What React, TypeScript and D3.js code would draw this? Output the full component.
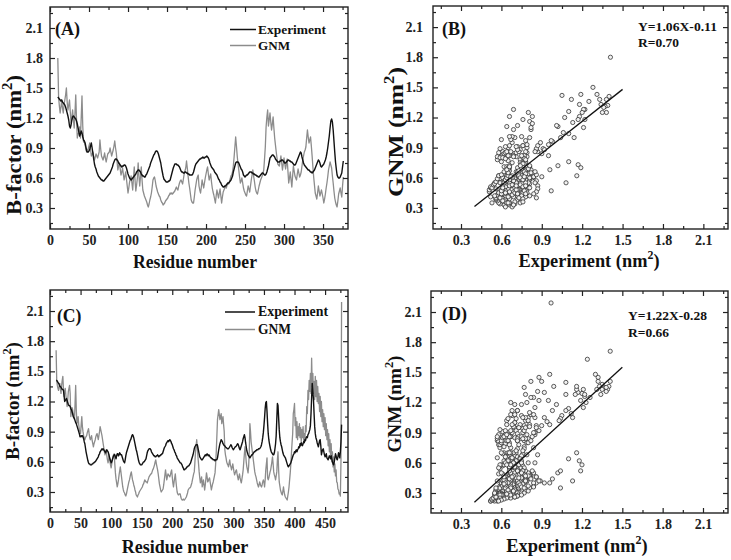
import React, { useEffect, useRef } from "react";
import { select, scaleLinear, line, range, axisBottom, axisTop, axisLeft, axisRight } from "d3";

const FONT = "'Liberation Serif', 'Times New Roman', serif";

// B-factor profiles in nm^2 x 100, one value per residue starting at residue 10
const firstResidue = 10;

const expA = [
  141, 140, 139, 138, 137, 138, 136, 135, 134, 133,
  131, 128, 125, 122, 118, 112, 110, 113, 118, 121,
  122, 121, 120, 119, 117, 114, 110, 106, 102, 104,
  107, 105, 101, 98, 97, 95, 91, 87, 86, 86,
  87, 89, 92, 95, 90, 85, 79, 74, 71, 69,
  66, 64, 62, 61, 60, 59, 58, 58, 57, 57,
  58, 59, 60, 61, 62, 63, 64, 65, 67, 69,
  71, 74, 76, 78, 79, 79, 78, 77, 75, 74,
  73, 72, 71, 72, 72, 73, 73, 72, 70, 67,
  64, 62, 60, 59, 58, 59, 60, 61, 62, 63,
  64, 66, 67, 68, 68, 67, 66, 64, 63, 62,
  62, 61, 61, 63, 64, 66, 68, 70, 72, 75,
  77, 79, 81, 83, 84, 86, 87, 87, 86, 84,
  81, 78, 75, 70, 66, 62, 59, 58, 57, 56,
  56, 56, 57, 57, 58, 61, 64, 67, 70, 72,
  74, 74, 74, 73, 73, 72, 71, 69, 67, 66,
  66, 65, 65, 66, 66, 65, 65, 64, 64, 63,
  63, 63, 63, 64, 66, 69, 72, 74, 75, 76,
  77, 78, 79, 79, 80, 80, 81, 80, 80, 81,
  81, 82, 81, 80, 78, 75, 73, 71, 70, 69,
  68, 66, 65, 64, 63, 61, 59, 58, 56, 55,
  53, 52, 51, 51, 52, 52, 53, 54, 55, 55,
  56, 57, 58, 60, 62, 66, 69, 72, 75, 76,
  76, 76, 75, 73, 71, 69, 68, 66, 63, 62,
  61, 62, 63, 63, 64, 65, 66, 66, 66, 65,
  65, 64, 64, 63, 63, 62, 62, 61, 61, 62,
  63, 64, 65, 65, 64, 63, 63, 64, 66, 69,
  72, 76, 80, 81, 82, 83, 83, 82, 81, 79,
  78, 77, 76, 76, 76, 77, 77, 78, 78, 77,
  76, 75, 75, 76, 77, 78, 78, 77, 77, 76,
  76, 75, 74, 73, 73, 74, 76, 78, 80, 82,
  84, 86, 85, 81, 78, 75, 73, 72, 71, 70,
  69, 68, 68, 67, 66, 66, 65, 66, 67, 68,
  70, 72, 74, 76, 78, 77, 75, 72, 71, 72,
  73, 74, 76, 78, 81, 85, 90, 96, 102, 110,
  117, 119, 116, 108, 97, 86, 76, 69, 63, 61,
  60, 60, 61, 63, 65, 71, 77,
];

const gnmA = [
  180, 141, 132, 125, 131, 138, 130, 125, 133, 138,
  143, 150, 136, 128, 133, 138, 126, 115, 121, 128,
  118, 110, 125, 143, 118, 100, 104, 105, 111, 100,
  120, 142, 112, 96, 97, 93, 89, 86, 88, 89,
  92, 95, 88, 82, 84, 86, 81, 78, 81, 84,
  82, 80, 83, 86, 98, 89, 82, 80, 78, 81,
  85, 80, 76, 80, 84, 85, 86, 90, 86, 82,
  85, 88, 92, 97, 90, 85, 76, 68, 72, 75,
  69, 63, 66, 70, 64, 58, 62, 66, 59, 52,
  45, 50, 56, 59, 62, 55, 48, 60, 71, 58,
  47, 53, 60, 75, 62, 52, 61, 71, 58, 48,
  45, 42, 40, 38, 36, 33, 31, 34, 38, 41,
  45, 51, 58, 60, 61, 57, 52, 49, 46, 44,
  42, 41, 38, 36, 35, 33, 34, 35, 37, 38,
  39, 40, 42, 43, 45, 44, 45, 44, 45, 46,
  47, 49, 51, 49, 48, 52, 55, 57, 58, 56,
  54, 59, 64, 67, 70, 77, 70, 62, 55, 50,
  44, 38, 36, 35, 35, 41, 48, 53, 58, 61,
  63, 52, 48, 45, 51, 58, 54, 50, 55, 60,
  64, 68, 71, 64, 58, 61, 64, 56, 50, 46,
  43, 39, 35, 42, 48, 44, 40, 45, 49, 42,
  35, 41, 46, 48, 50, 51, 50, 53, 55, 54,
  56, 59, 62, 63, 66, 72, 81, 91, 101, 92,
  82, 74, 68, 61, 55, 57, 60, 55, 50, 47,
  45, 43, 42, 47, 52, 49, 46, 52, 58, 63,
  68, 62, 57, 51, 47, 45, 44, 48, 52, 55,
  58, 60, 62, 65, 68, 79, 91, 111, 121, 128,
  112, 118, 125, 116, 108, 114, 121, 110, 100, 93,
  86, 80, 74, 73, 72, 77, 82, 75, 68, 74,
  80, 74, 69, 74, 79, 67, 55, 60, 66, 58,
  51, 62, 72, 67, 62, 60, 58, 64, 69, 65,
  61, 63, 66, 72, 78, 82, 86, 88, 91, 100,
  108, 101, 95, 98, 101, 92, 82, 71, 61, 53,
  45, 42, 39, 45, 52, 47, 42, 45, 48, 44,
  40, 35, 39, 44, 50, 55, 61, 68, 72, 76,
  73, 70, 62, 55, 47, 40, 36, 33, 31, 37,
  44, 47, 50, 45, 41, 52, 61,
];

const expC = [
  141, 141, 140, 139, 138, 137, 135, 135, 134, 133,
  132, 132, 131, 126, 120, 121, 122, 123, 121, 119,
  117, 116, 116, 115, 113, 112, 110, 108, 105, 104,
  103, 101, 99, 98, 96, 94, 92, 90, 88, 85,
  85, 86, 85, 86, 85, 83, 80, 78, 74, 70,
  67, 64, 61, 59, 58, 58, 57, 57, 57, 58,
  58, 59, 59, 60, 60, 61, 62, 63, 64, 65,
  67, 68, 70, 71, 72, 73, 72, 73, 72, 71,
  70, 69, 71, 72, 71, 70, 68, 65, 63, 61,
  59, 60, 62, 64, 66, 67, 67, 65, 63, 66,
  68, 68, 66, 67, 69, 68, 67, 67, 65, 63,
  61, 60, 59, 62, 66, 69, 71, 73, 75, 77,
  79, 81, 82, 84, 86, 87, 86, 84, 81, 78,
  75, 72, 70, 67, 64, 61, 59, 58, 57, 57,
  57, 58, 59, 60, 60, 61, 62, 63, 66, 69,
  71, 72, 73, 73, 73, 72, 70, 69, 68, 67,
  66, 66, 65, 65, 66, 66, 67, 66, 65, 66,
  66, 67, 67, 68, 68, 70, 72, 74, 75, 76,
  78, 79, 80, 81, 80, 81, 82, 81, 80, 78,
  77, 75, 73, 72, 70, 69, 67, 66, 64, 63,
  62, 61, 60, 59, 59, 58, 57, 55, 54, 52,
  52, 53, 53, 54, 55, 55, 56, 56, 57, 58,
  59, 61, 63, 65, 67, 70, 73, 75, 76, 77,
  77, 77, 74, 71, 68, 65, 64, 63, 62, 62,
  63, 64, 65, 66, 67, 66, 67, 68, 67, 66,
  67, 66, 65, 64, 64, 63, 63, 62, 62, 62,
  61, 62, 62, 62, 64, 68, 72, 75, 78, 80,
  82, 81, 80, 78, 77, 76, 76, 75, 74, 74,
  73, 73, 73, 74, 75, 76, 77, 76, 74, 73,
  72, 73, 74, 75, 75, 76, 77, 78, 77, 75,
  73, 72, 74, 76, 78, 80, 83, 85, 87, 84,
  79, 75, 71, 69, 67, 66, 65, 64, 65, 66,
  67, 67, 68, 69, 70, 70, 71, 71, 72, 72,
  72, 73, 73, 73, 74, 75, 77, 80, 84, 89,
  96, 104, 113, 119, 120, 110, 98, 88, 82, 78,
  75, 72, 70, 69, 68, 67, 67, 69, 73, 78,
  86, 102, 118, 116, 104, 92, 84, 80, 77, 75,
  72, 69, 67, 66, 65, 64, 62, 60, 58, 56,
  55, 56, 57, 58, 59, 61, 63, 65, 67, 68,
  70, 69, 71, 72, 70, 72, 73, 75, 74, 78,
  76, 79, 77, 76, 78, 80, 79, 82, 81, 84,
  85, 84, 87, 88, 90, 92, 96, 108, 124, 138,
  130, 122, 108, 95, 88, 84, 82, 79, 77, 75,
  78, 81, 82, 76, 67, 70, 72, 73, 70, 67,
  65, 66, 68, 64, 63, 62, 64, 66, 65, 63,
  66, 63, 60, 58, 57, 60, 64, 68, 66, 63,
  62, 65, 69, 67, 64, 70, 80, 97,
];

const gnmC = [
  171, 141, 136, 133, 131, 135, 138, 133, 128, 136,
  141, 145, 133, 125, 129, 133, 126, 120, 115, 122,
  130, 133, 136, 128, 105, 109, 114, 112, 107, 104,
  102, 118, 136, 112, 98, 101, 105, 97, 92, 90,
  88, 97, 105, 95, 90, 86, 84, 82, 84, 85,
  86, 89, 91, 93, 88, 84, 82, 84, 86, 81,
  78, 75, 78, 80, 82, 85, 87, 88, 85, 82,
  86, 90, 95, 92, 89, 86, 82, 78, 74, 70,
  67, 70, 72, 66, 62, 59, 63, 67, 61, 57,
  54, 58, 62, 65, 67, 68, 58, 49, 43, 39,
  35, 38, 42, 47, 51, 55, 50, 45, 40, 35,
  32, 30, 29, 27, 26, 28, 31, 34, 37, 40,
  42, 45, 48, 50, 46, 42, 40, 37, 35, 32,
  30, 27, 26, 25, 27, 28, 30, 31, 32, 33,
  34, 35, 37, 38, 40, 42, 41, 40, 40, 39,
  41, 43, 45, 46, 47, 48, 48, 50, 52, 53,
  55, 57, 60, 62, 58, 55, 52, 48, 43, 38,
  35, 32, 30, 31, 32, 33, 37, 42, 47, 52,
  47, 42, 45, 48, 47, 46, 45, 47, 50, 52,
  45, 39, 35, 40, 44, 48, 41, 35, 30, 28,
  27, 28, 28, 28, 25, 23, 22, 22, 23, 22,
  22, 23, 24, 25, 27, 29, 32, 33, 34, 34,
  35, 37, 39, 42, 45, 48, 50, 59, 69, 76,
  82, 74, 65, 58, 50, 44, 39, 42, 45, 35,
  38, 42, 37, 32, 37, 43, 49, 45, 40, 41,
  43, 44, 40, 36, 32, 35, 38, 40, 43, 46,
  49, 58, 70, 86, 102, 107, 112, 107, 102, 105,
  108, 98, 102, 105, 97, 90, 72, 67, 64, 60,
  58, 57, 55, 59, 62, 57, 55, 52, 55, 58,
  54, 50, 47, 49, 51, 52, 48, 45, 42, 45,
  48, 44, 41, 39, 43, 47, 52, 60, 68, 75,
  68, 60, 55, 52, 49, 56, 70, 98, 90, 80,
  75, 70, 65, 60, 55, 50, 47, 45, 42, 39,
  37, 35, 37, 40, 38, 36, 35, 37, 40, 42,
  40, 35, 42, 52, 58, 64, 44, 42, 44, 47,
  50, 52, 56, 60, 65, 58, 50, 47, 45, 42,
  46, 50, 62, 70, 52, 40, 36, 32, 30, 28,
  27, 31, 35, 30, 27, 25, 24, 23, 22, 26,
  30, 35, 42, 49, 58, 69, 79, 88, 108, 112,
  118, 96, 104, 84, 100, 82, 95, 86, 98, 84,
  94, 80, 92, 84, 95, 80, 88, 82, 96, 90,
  115, 108, 131, 122, 141, 130, 148, 128, 163, 135,
  148, 128, 140, 122, 145, 125, 141, 120, 135, 118,
  128, 110, 125, 105, 120, 100, 112, 95, 108, 92,
  104, 86, 98, 82, 92, 76, 88, 70, 82, 66,
  78, 60, 70, 55, 65, 50, 58, 46, 52, 40,
  39, 33, 32, 28, 29, 26, 60, 219,
];

const residueTicksA = [0, 50, 100, 150, 200, 250, 300, 350];
const residueTicksC = [0, 50, 100, 150, 200, 250, 300, 350, 400, 450];
const bTicks = [0.3, 0.6, 0.9, 1.2, 1.5, 1.8, 2.1];

// least-squares fits: slope, intercept
const fitB = [1.06, -0.11];
const fitD = [1.22, -0.28];
const rB = "0.70";
const rD = "0.66";
const fitSpan = [0.4, 1.5];

const txt = (g, x, y, size, anchor, parts, len?, rotate = false) => {
  const t = g
    .append("text")
    .attr("x", rotate ? 0 : x)
    .attr("y", rotate ? 0 : y)
    .attr("font-family", FONT)
    .attr("font-weight", "bold")
    .attr("font-size", size)
    .attr("fill", "#111")
    .attr("text-anchor", anchor);
  if (rotate) t.attr("transform", `translate(${x},${y}) rotate(-90)`);
  if (len) t.attr("textLength", len).attr("lengthAdjust", "spacingAndGlyphs");
  t.append("tspan").text(parts[0]);
  if (parts.length > 1) {
    t.append("tspan").attr("font-size", size * 0.65).attr("dy", -size * 0.42).text(parts[1]);
    t.append("tspan").attr("dy", size * 0.42).text(parts[2]);
  }
  return t;
};

const frame = (g, x, y, xMajor, xMinor, yMajor, yMinor, xFmt, yGap) => {
  const [l, r] = x.range();
  const [b, t] = y.range();
  const style = (a) => {
    a.select(".domain").remove();
    a.attr("font-family", FONT).attr("font-size", 14).attr("font-weight", "bold").attr("color", "#222");
    a.selectAll("line").attr("stroke-width", 1.2);
  };
  const blank = () => "";

  g.append("g").attr("transform", `translate(0,${b})`)
    .call(axisBottom(x).tickValues(xMajor).tickSize(-5).tickPadding(6).tickFormat(xFmt)).call(style);
  g.append("g").attr("transform", `translate(0,${b})`)
    .call(axisBottom(x).tickValues(xMinor).tickSize(-3).tickFormat(blank)).call(style);
  g.append("g").attr("transform", `translate(0,${t})`)
    .call(axisTop(x).tickValues(xMajor).tickSize(-5).tickFormat(blank)).call(style);
  g.append("g").attr("transform", `translate(0,${t})`)
    .call(axisTop(x).tickValues(xMinor).tickSize(-3).tickFormat(blank)).call(style);
  g.append("g").attr("transform", `translate(${l},0)`)
    .call(axisLeft(y).tickValues(yMajor).tickSize(-5).tickPadding(yGap).tickFormat((d) => d.toFixed(1))).call(style);
  g.append("g").attr("transform", `translate(${l},0)`)
    .call(axisLeft(y).tickValues(yMinor).tickSize(-3).tickFormat(blank)).call(style);
  g.append("g").attr("transform", `translate(${r},0)`)
    .call(axisRight(y).tickValues(yMajor).tickSize(-5).tickFormat(blank)).call(style);
  g.append("g").attr("transform", `translate(${r},0)`)
    .call(axisRight(y).tickValues(yMinor).tickSize(-3).tickFormat(blank)).call(style);

  g.append("rect")
    .attr("x", l).attr("y", t).attr("width", r - l).attr("height", b - t)
    .attr("fill", "none").attr("stroke", "#222").attr("stroke-width", 1.4);
};

const profile = (g, x, y, exp, gnm) => {
  const path = line<number>()
    .x((_, i) => x(firstResidue + i))
    .y((v) => y(v / 100));
  g.append("path").attr("d", path(gnm)).attr("fill", "none")
    .attr("stroke", "#8c8c8c").attr("stroke-width", 1.3).attr("stroke-linejoin", "round");
  g.append("path").attr("d", path(exp)).attr("fill", "none")
    .attr("stroke", "#111").attr("stroke-width", 1.4).attr("stroke-linejoin", "round");
};

const legend = (g, x, y1, y2, len) => {
  g.append("line").attr("x1", x).attr("x2", x + len).attr("y1", y1).attr("y2", y1)
    .attr("stroke", "#111").attr("stroke-width", 1.5);
  g.append("line").attr("x1", x).attr("x2", x + len).attr("y1", y2).attr("y2", y2)
    .attr("stroke", "#8c8c8c").attr("stroke-width", 1.5);
};

const scatter = (g, x, y, exp, gnm, fit) => {
  const pts = exp.map((e, i) => [e / 100, gnm[i] / 100]);
  g.selectAll("circle.pt").data(pts).join("circle").attr("class", "pt")
    .attr("cx", (d) => x(d[0])).attr("cy", (d) => y(d[1])).attr("r", 2.1)
    .attr("fill", "#f2f2f2").attr("stroke", "#333").attr("stroke-width", 0.8);
  const fitLine = line<number>().x((v) => x(v)).y((v) => y(fit[0] * v + fit[1]));
  g.append("path").attr("d", fitLine(fitSpan)).attr("fill", "none")
    .attr("stroke", "#111").attr("stroke-width", 1.3);
};

const App = () => {
  const ref = useRef<SVGSVGElement>(null);

  useEffect(() => {
    const svg = select(ref.current);
    svg.selectAll("*").remove();
    const fmt0 = (d) => String(d);
    const fmt1 = (d) => d.toFixed(1);
    const bMinor = range(0.15, 2.3, 0.3);

    // (A) residue profile
    const xA = scaleLinear().domain([0, 382]).range([50, 348]);
    const yA = scaleLinear().domain([0.09, 2.31]).range([229, 7]);
    const gA = svg.append("g");
    profile(gA, xA, yA, expA, gnmA);
    frame(gA, xA, yA, residueTicksA, range(25, 382, 50), bTicks, bMinor, fmt0, 7);
    legend(gA, 230, 29.5, 45.5, 26);
    txt(gA, 258, 34, 13.5, "start", ["Experiment"], 68);
    txt(gA, 258, 50, 13.5, "start", ["GNM"], 32);
    txt(gA, 55, 35, 18, "start", ["(A)"], 25);
    txt(gA, 195, 268, 19, "middle", ["Residue number"], 124);
    txt(gA, 21, 145, 21, "middle", ["B-factor (nm", "2", ")"], 140, true);

    // (B) correlation
    const xB = scaleLinear().domain([0.092, 2.283]).range([433, 728]);
    const yB = scaleLinear().domain([0.09, 2.31]).range([229, 6]);
    const gB = svg.append("g");
    scatter(gB, xB, yB, expA, gnmA, fitB);
    frame(gB, xB, yB, bTicks, bMinor, bTicks, bMinor, fmt1, 10);
    txt(gB, 442, 35, 18, "start", ["(B)"], 24);
    txt(gB, 638, 31, 13, "start", [`Y=${fitB[0].toFixed(2)}X${fitB[1].toFixed(2)}`], 79);
    txt(gB, 638, 47, 13, "start", [`R=${rB}`], 41);
    txt(gB, 589, 267, 18.5, "middle", ["Experiment (nm", "2", ")"], 141);
    txt(gB, 403, 132, 22, "middle", ["GNM (nm", "2", ")"], 130, true);

    // (C) residue profile
    const xC = scaleLinear().domain([0, 487.5]).range([50, 348]);
    const yC = scaleLinear().domain([0.101, 2.309]).range([512, 290]);
    const gC = svg.append("g");
    profile(gC, xC, yC, expC, gnmC);
    frame(gC, xC, yC, residueTicksC, range(25, 487, 50), bTicks, bMinor, fmt0, 6);
    legend(gC, 225, 312, 329.5, 30);
    txt(gC, 258, 316, 13.8, "start", ["Experiment"], 70);
    txt(gC, 258, 333.5, 13.8, "start", ["GNM"], 33);
    txt(gC, 57, 322, 18, "start", ["(C)"], 24.5);
    txt(gC, 185, 553, 19, "middle", ["Residue number"], 126.5);
    txt(gC, 19, 401, 18, "middle", ["B-factor (nm", "2", ")"], 118, true);

    // (D) correlation
    const xD = scaleLinear().domain([0.077, 2.286]).range([431, 728]);
    const yD = scaleLinear().domain([0.101, 2.309]).range([513, 291]);
    const gD = svg.append("g");
    scatter(gD, xD, yD, expC, gnmC, fitD);
    frame(gD, xD, yD, bTicks, bMinor, bTicks, bMinor, fmt1, 9);
    txt(gD, 442, 320, 18, "start", ["(D)"], 25);
    txt(gD, 628, 320, 13, "start", [`Y=${fitD[0].toFixed(2)}X${fitD[1].toFixed(2)}`], 79);
    txt(gD, 628, 337, 13, "start", [`R=${rD}`], 41);
    txt(gD, 577, 552, 18.5, "middle", ["Experiment (nm", "2", ")"], 141.5);
    txt(gD, 401, 404, 19, "middle", ["GNM (nm", "2", ")"], 97, true);
  }, []);

  return (
    <svg
      ref={ref}
      width={731}
      height={560}
      style={{ position: "absolute", left: 0, top: 0, background: "#fff" }}
    />
  );
};

export default App;
